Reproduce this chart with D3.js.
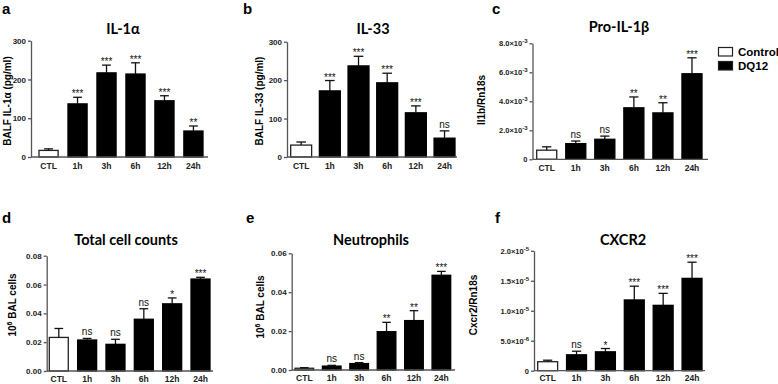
<!DOCTYPE html>
<html lang="en">
<head>
<meta charset="UTF-8">
<title>DQ12 time course</title>
<script src="https://d3js.org/d3.v7.min.js"></script>
<style>
    body { margin: 0; padding: 0; background: #fff; }
    svg { display: block; }
    .tick text { font-family: "Liberation Sans", Arial, sans-serif; font-weight: bold; fill: #222; }
    .title { font-family: Lato, "Open Sans", sans-serif; font-weight: bold; font-size: 14.5px; }
    .letter { font-family: "Liberation Sans", Arial, sans-serif; font-weight: bold; font-size: 15px; }
    .ylab { font-family: "Liberation Sans", Arial, sans-serif; font-weight: bold; font-size: 10px; }
    .sig { font-family: "Liberation Sans", Arial, sans-serif; font-size: 10px; fill: #111; }
    .legend text { font-family: "Liberation Sans", Arial, sans-serif; font-weight: bold; font-size: 11.5px; }
</style>
</head>
<body>
<svg id="chart" width="778" height="384"></svg>
<script>
// categories shared by all panels
const categories = ["CTL", "1h", "3h", "6h", "12h", "24h"];

// a: BALF IL-1a (pg/ml)
const il1aMean = [17, 137, 217, 214, 145, 67];
const il1aErr  = [4, 17, 20, 29, 13, 13];
const il1aSig  = ["", "***", "***", "***", "***", "**"];
const il1aTicks = [0, 100, 200, 300];

// b: BALF IL-33 (pg/ml)
const il33Mean = [31, 172, 237, 193, 115, 49];
const il33Err  = [8, 27, 25, 25, 18, 19];
const il33Sig  = ["", "***", "***", "***", "***", "ns"];
const il33Ticks = [0, 100, 200, 300];

// c: Il1b/Rn18s
const il1bMean = [0.63e-3, 1.08e-3, 1.38e-3, 3.55e-3, 3.2e-3, 5.9e-3];
const il1bErr  = [0.23e-3, 0.18e-3, 0.22e-3, 0.75e-3, 0.7e-3, 1.1e-3];
const il1bSig  = ["", "ns", "ns", "**", "**", "***"];
const il1bTicks = [0, 2e-3, 4e-3, 6e-3, 8e-3];

// d: total BAL cells (10^6)
const totalMean = [0.0233, 0.0215, 0.0185, 0.0359, 0.0466, 0.0638];
const totalErr  = [0.0062, 0.0011, 0.0035, 0.0073, 0.0041, 0.0012];
const totalSig  = ["", "ns", "ns", "ns", "*", "***"];
const totalTicks = [0, 0.02, 0.04, 0.06, 0.08];

// e: neutrophils (10^6)
const neutMean = [0.0009, 0.002, 0.0033, 0.0197, 0.0254, 0.0487];
const neutErr  = [0.0003, 0.0004, 0.0005, 0.0048, 0.0051, 0.002];
const neutSig  = ["", "ns", "ns", "**", "**", "***"];
const neutTicks = [0, 0.02, 0.04, 0.06];

// f: Cxcr2/Rn18s
const cxcr2Mean = [0.15e-5, 0.265e-5, 0.315e-5, 1.18e-5, 1.09e-5, 1.54e-5];
const cxcr2Err  = [0.025e-5, 0.06e-5, 0.055e-5, 0.23e-5, 0.2e-5, 0.27e-5];
const cxcr2Sig  = ["", "ns", "*", "***", "***", "***"];
const cxcr2Ticks = [0, 5e-6, 1e-5, 1.5e-5, 2e-5];

const legendLabels = ["Control", "DQ12"];

const fmt2 = d3.format(".2f");
const fmtInt = d3.format("d");

const panels = [
    { letter: "a", title: "IL-1α", ylab: [["BALF IL-1α (pg/ml)"]], mean: il1aMean, err: il1aErr, sig: il1aSig, ticks: il1aTicks, fmt: fmtInt,
      box: { left: 31, right: 208, top: 40.7, bottom: 157, barL: 39, barR: 203, pad: 0.34, tx: 123, ty: 34, lx: 10.5, ly: 101, px: 2, py: 13.5, xpad: 6 } },
    { letter: "b", title: "IL-33", ylab: [["BALF IL-33 (pg/ml)"]], mean: il33Mean, err: il33Err, sig: il33Sig, ticks: il33Ticks, fmt: fmtInt,
      box: { left: 287, right: 457, top: 41.7, bottom: 157, barL: 290.7, barR: 455, pad: 0.27, tx: 373, ty: 34, lx: 263, ly: 101, px: 243, py: 13.5, xpad: 6 } },
    { letter: "c", title: "Pro-IL-1β", ylab: [["Il1b/Rn18s"]], mean: il1bMean, err: il1bErr, sig: il1bSig, ticks: il1bTicks, fmt: "sci",
      box: { left: 532.5, right: 708, top: 43.3, bottom: 159.3, barL: 536.7, barR: 702, pad: 0.31, tx: 619, ty: 32, lx: 485, ly: 100, px: 492, py: 13.5, xpad: 6 } },
    { letter: "d", title: "Total cell counts", ylab: [["10"], ["6", "sup"], [" BAL cells"]], mean: totalMean, err: totalErr, sig: totalSig, ticks: totalTicks, fmt: fmt2,
      box: { left: 46.7, right: 213, top: 255.7, bottom: 371, barL: 49.3, barR: 210, pad: 0.33, tx: 126, ty: 245, lx: 16, ly: 305, px: 2, py: 223, xpad: 4.5 } },
    { letter: "e", title: "Neutrophils", ylab: [["10"], ["6", "sup"], [" BAL cells"]], mean: neutMean, err: neutErr, sig: neutSig, ticks: neutTicks, fmt: fmt2,
      box: { left: 291.7, right: 455, top: 253.3, bottom: 370, barL: 295, barR: 450.7, pad: 0.32, tx: 371, ty: 245, lx: 264, ly: 307, px: 246, py: 223, xpad: 5 } },
    { letter: "f", title: "CXCR2", ylab: [["Cxcr2/Rn18s"]], mean: cxcr2Mean, err: cxcr2Err, sig: cxcr2Sig, ticks: cxcr2Ticks, fmt: "sci",
      box: { left: 534, right: 705, top: 250.8, bottom: 370.7, barL: 537.7, barR: 702, pad: 0.31, tx: 623, ty: 245, lx: 477, ly: 305, px: 495, py: 223, xpad: 4.5 } }
];

const svg = d3.select("#chart");
const axisColor = "#555";

// writes "m.m×10^e" into a tick label
function sciLabel(sel, v) {
    sel.text(null);
    if (v === 0) { sel.text("0"); return; }
    const e = Math.floor(Math.log10(v) + 1e-9);
    const m = v / Math.pow(10, e);
    sel.append("tspan").text(m.toFixed(1) + "×10");
    sel.append("tspan").attr("dy", -3).attr("font-size", "6px").text(e);
}

panels.forEach(p => {
    const b = p.box;
    const g = svg.append("g");

    const x = d3.scaleBand()
        .domain(categories)
        .range([b.barL, b.barR])
        .paddingInner(b.pad)
        .paddingOuter(0);

    const y = d3.scaleLinear()
        .domain([0, d3.max(p.ticks)])
        .range([b.bottom, b.top]);

    // bars
    g.selectAll("rect.bar")
        .data(p.mean)
        .join("rect")
        .attr("class", "bar")
        .attr("x", (d, i) => x(categories[i]))
        .attr("y", d => y(d))
        .attr("width", x.bandwidth())
        .attr("height", d => b.bottom - y(d))
        .attr("fill", (d, i) => i === 0 ? "#fff" : "#000")
        .attr("stroke", (d, i) => i === 0 ? "#222" : "#000")
        .attr("stroke-width", 1.3);

    // upper error bars
    const eb = g.selectAll("g.err")
        .data(p.mean)
        .join("g")
        .attr("class", "err")
        .attr("stroke", "#111")
        .attr("stroke-width", 1.3);
    eb.append("line")
        .attr("x1", (d, i) => x(categories[i]) + x.bandwidth() / 2)
        .attr("x2", (d, i) => x(categories[i]) + x.bandwidth() / 2)
        .attr("y1", d => y(d))
        .attr("y2", (d, i) => y(d + p.err[i]));
    eb.append("line")
        .attr("x1", (d, i) => x(categories[i]) + x.bandwidth() * 0.27)
        .attr("x2", (d, i) => x(categories[i]) + x.bandwidth() * 0.73)
        .attr("y1", (d, i) => y(d + p.err[i]))
        .attr("y2", (d, i) => y(d + p.err[i]));

    // significance marks
    g.selectAll("text.sig")
        .data(p.sig)
        .join("text")
        .attr("class", "sig")
        .attr("text-anchor", "middle")
        .attr("x", (d, i) => x(categories[i]) + x.bandwidth() / 2)
        .attr("y", (d, i) => y(p.mean[i] + p.err[i]) - (d === "ns" ? 3 : 0))
        .attr("font-size", d => d === "ns" ? "10.5px" : "9px")
        .text(d => d);

    // y axis
    const yAxis = d3.axisLeft(y)
        .tickValues(p.ticks)
        .tickSize(3)
        .tickSizeOuter(0)
        .tickPadding(2);
    if (p.fmt !== "sci") yAxis.tickFormat(p.fmt);
    const ya = g.append("g")
        .attr("transform", `translate(${b.left},0)`)
        .call(yAxis);
    ya.selectAll("text").attr("font-size", "8px");
    if (p.fmt === "sci") {
        ya.selectAll(".tick text").each(function (v) { sciLabel(d3.select(this), v); });
        ya.selectAll(".tick text").attr("font-size", "7.5px");
    }
    ya.selectAll("path, line").attr("stroke", axisColor).attr("stroke-width", 1.3);

    // x axis
    const xa = g.append("g")
        .attr("transform", `translate(0,${b.bottom})`)
        .call(d3.axisBottom(x).tickSize(0).tickPadding(b.xpad));
    xa.select(".domain").remove();
    xa.selectAll("text").attr("font-size", "8.5px");
    g.append("line")
        .attr("x1", b.left).attr("x2", b.right)
        .attr("y1", b.bottom).attr("y2", b.bottom)
        .attr("stroke", axisColor).attr("stroke-width", 1.3);

    // labels
    g.append("text").attr("class", "title")
        .attr("x", b.tx).attr("y", b.ty)
        .attr("text-anchor", "middle")
        .text(p.title);

    g.append("text").attr("class", "letter")
        .attr("x", b.px).attr("y", b.py)
        .text(p.letter);

    const yl = g.append("text").attr("class", "ylab")
        .attr("transform", `translate(${b.lx},${b.ly}) rotate(-90)`)
        .attr("text-anchor", "middle");
    p.ylab.forEach(([t, kind], i) => {
        const ts = yl.append("tspan").text(t);
        if (kind === "sup") ts.attr("dy", -4).attr("font-size", "7px");
        else if (i > 0 && p.ylab[i - 1][1] === "sup") ts.attr("dy", 4);
    });
});

// legend
const legend = svg.append("g").attr("class", "legend");
legend.selectAll("rect")
    .data(legendLabels)
    .join("rect")
    .attr("x", 718.5)
    .attr("y", (d, i) => 47.5 + i * 14)
    .attr("width", 14)
    .attr("height", 8.5)
    .attr("fill", (d, i) => i === 0 ? "#fff" : "#000")
    .attr("stroke", "#222")
    .attr("stroke-width", 1.2);
legend.selectAll("text")
    .data(legendLabels)
    .join("text")
    .attr("x", 738)
    .attr("y", (d, i) => 56 + i * 14)
    .text(d => d);
</script>
</body>
</html>
